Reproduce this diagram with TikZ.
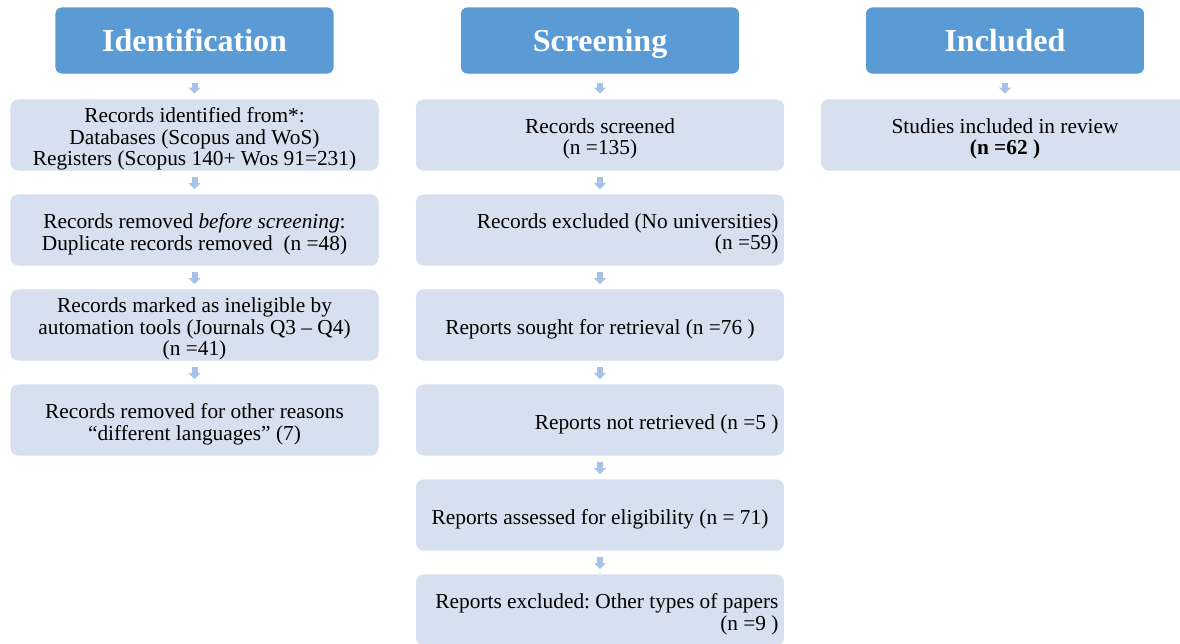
\documentclass[tikz,border=0pt]{standalone}
\usepackage{fontspec}
\setmainfont{Liberation Serif}
\usetikzlibrary{arrows.meta}
\definecolor{headblue}{RGB}{91,155,213}
\definecolor{boxblue}{RGB}{214,224,239}
\definecolor{arrowblue}{RGB}{168,194,229}
% box text: a fixed-width paragraph set a little below the box centre
\newcommand{\ctext}[1]{\raisebox{-3pt}[\height][\depth]{\parbox{267.75pt}{\centering #1}}}
\newcommand{\rtext}[1]{\raisebox{-3pt}[\height][\depth]{\parbox{267.75pt}{\raggedleft #1}}}
\begin{document}
\begin{tikzpicture}[x=0.75pt,y=-0.75pt,
  header/.style={rectangle, rounded corners=5pt, fill=headblue, draw=white,
    line width=0.6pt, minimum width=209.25pt, minimum height=50.25pt,
    inner sep=0pt, text height=19pt, text depth=2.8pt, text=white,
    font=\fontsize{24}{28}\selectfont\bfseries},
  stage/.style={rectangle, rounded corners=6pt, fill=boxblue, draw=white,
    line width=0.6pt, minimum width=276.75pt, minimum height=54pt,
    inner sep=0pt, font=\fontsize{16}{16.2}\selectfont\frenchspacing},
  flow/.style={draw=arrowblue, line width=4.5pt,
    -{Triangle[length=4.5pt,width=9pt]}},
  fromhead/.style={flow, shorten <=6.75pt, shorten >=3.75pt},
  frombox/.style={flow, shorten <=4pt, shorten >=3.4pt},
]
\useasboundingbox (0,0) rectangle (1180,643);

% column headers
\node[header] (hid) at (194.5,40.5) {Identification};
\node[header] (hsc) at (600,40.5) {Screening};
\node[header] (hin) at (1005,40.5) {Included};

% identification column
\node[stage] (i1) at (194.5,135) {\ctext{Records identified from*:\\Databases (Scopus and WoS)\\Registers (Scopus 140+ Wos 91=231)}};
\node[stage] (i2) at (194.5,230) {\ctext{Records removed \emph{before screening}:\\Duplicate records removed\ \ (n =48)}};
\node[stage] (i3) at (194.5,325) {\ctext{Records marked as ineligible by\\automation tools (Journals Q3 – Q4)\\(n =41)}};
\node[stage] (i4) at (194.5,420) {\ctext{Records removed for other reasons\\“different languages” (7)}};

% screening column
\node[stage] (s1) at (600,135) {\ctext{Records screened\\(n =135)}};
\node[stage] (s2) at (600,230) {\rtext{Records excluded (No universities)\\(n =59)}};
\node[stage] (s3) at (600,325) {\ctext{Reports sought for retrieval (n =76 )}};
\node[stage] (s4) at (600,420) {\rtext{Reports not retrieved (n =5 )}};
\node[stage] (s5) at (600,515) {\ctext{Reports assessed for eligibility (n = 71)}};
\node[stage] (s6) at (600,610) {\rtext{Reports excluded: Other types of papers\\(n =9 )}};

% included column
\node[stage] (n1) at (1005,135) {\ctext{Studies included in review\\\textbf{(n =62 )}}};

% connectors
\draw[fromhead] (hid) -- (i1);
\draw[frombox] (i1) -- (i2);
\draw[frombox] (i2) -- (i3);
\draw[frombox] (i3) -- (i4);

\draw[fromhead] (hsc) -- (s1);
\draw[frombox] (s1) -- (s2);
\draw[frombox] (s2) -- (s3);
\draw[frombox] (s3) -- (s4);
\draw[frombox] (s4) -- (s5);
\draw[frombox] (s5) -- (s6);

\draw[fromhead] (hin) -- (n1);
\end{tikzpicture}
\end{document}
